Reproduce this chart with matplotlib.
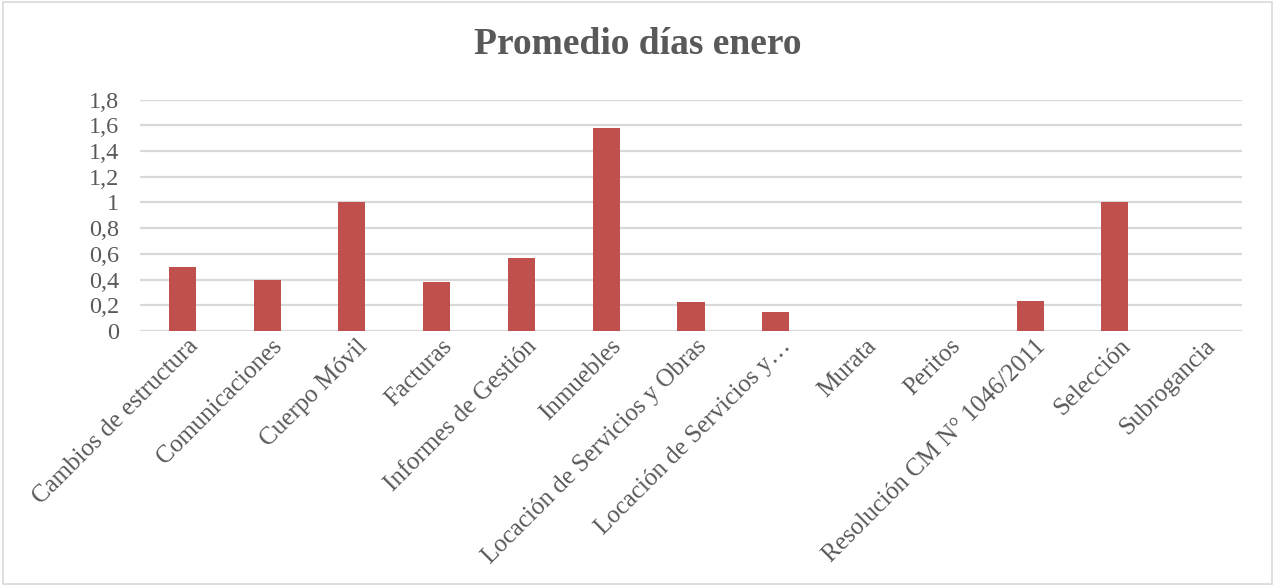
import matplotlib
matplotlib.use("Agg")
import matplotlib.pyplot as plt
from matplotlib.patches import Rectangle
from matplotlib.transforms import ScaledTranslation

categories = [
    "Cambios de estructura", "Comunicaciones", "Cuerpo Móvil", "Facturas",
    "Informes de Gestión", "Inmuebles", "Locación de Servicios y Obras",
    "Locación de Servicios y…", "Murata", "Peritos",
    "Resolución CM N° 1046/2011", "Selección", "Subrogancia",
]
values = [0.5, 0.4, 1.0, 0.383, 0.571, 1.577, 0.225, 0.15, 0.0, 0.0, 0.23, 1.0, 0.0]
y_ticks = [0, 0.2, 0.4, 0.6, 0.8, 1.0, 1.2, 1.4, 1.6, 1.8]
y_tick_labels = ["0", "0,2", "0,4", "0,6", "0,8", "1", "1,2", "1,4", "1,6", "1,8"]
title = "Promedio días enero"

plt.rcParams["font.family"] = ["Liberation Serif", "DejaVu Serif"]
text_grey = "#595959"
grid_grey = "#d9d9d9"
bar_red = "#c0504d"

W, H = 1275, 586
fig = plt.figure(figsize=(W / 100, H / 100), dpi=100)
fig.patch.set_facecolor("white")

# chart frame
fig.add_artist(Rectangle((3 / W, 2 / H), 1 - 6 / W, 1 - 4 / H, transform=fig.transFigure,
                         fill=False, edgecolor=grid_grey, linewidth=1.2))

ax = fig.add_axes([140 / W, 1 - 331 / H, (1242 - 140) / W, (331 - 99.5) / H])
x = list(range(len(categories)))
ax.bar(x, values, width=0.32, color=bar_red, zorder=3)
ax.set_xlim(-0.5, len(categories) - 0.5)
ax.set_ylim(0, 1.8)
ax.set_yticks(y_ticks)
ax.set_yticklabels(y_tick_labels)
ax.yaxis.grid(True, color=grid_grey, linewidth=1.6, zorder=0)
ax.set_axisbelow(True)
for s in ax.spines.values():
    s.set_visible(False)
ax.tick_params(axis="y", length=0, pad=15, labelsize=17.5, labelcolor=text_grey)
ax.tick_params(axis="x", length=0, pad=10)
ax.set_xticks(x)
ax.set_xticklabels(categories, rotation=45, rotation_mode="anchor", ha="right", va="center",
                   fontsize=18, color=text_grey)
shift = ScaledTranslation(12 / 100, 2 / 100, fig.dpi_scale_trans)
for lbl in ax.get_xticklabels():
    lbl.set_transform(lbl.get_transform() + shift)

fig.text(0.5, 1 - 45 / H, title, ha="center", va="center", fontsize=27,
         fontweight="bold", color=text_grey)

fig.savefig("out.png", dpi=100)
